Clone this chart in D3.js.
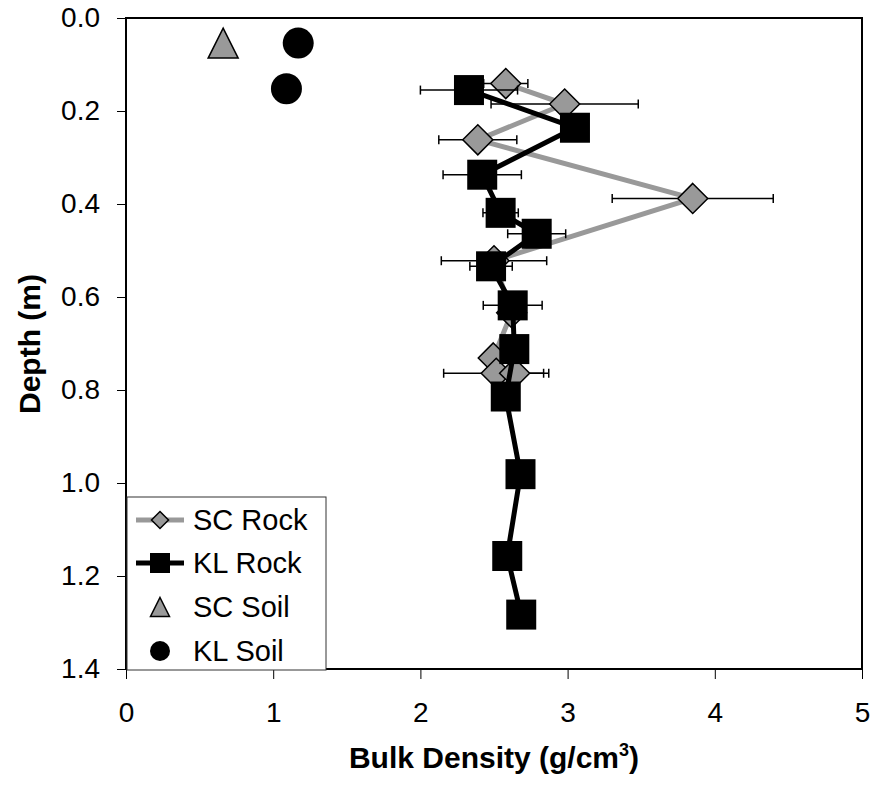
<!DOCTYPE html>
<html>
<head>
<meta charset="utf-8">
<script src="https://cdnjs.cloudflare.com/ajax/libs/d3/7.8.5/d3.min.js"></script>
<style>
  body{margin:0;background:#fff;}
  svg{display:block;font-family:"Liberation Sans",Arial,sans-serif;}
</style>
</head>
<body>
<svg id="canvas" width="871" height="796"></svg>
<script>
// bulk density (g/cm3) vs depth (m), with +/- error
const scRockDensity=[2.58,2.98,2.39,3.85,2.50,2.62,2.495,2.515,2.64];
const scRockDepth=[0.141,0.185,0.262,0.388,0.522,0.634,0.731,0.764,0.764];
const scRockErr=[0.15,0.50,0.265,0.547,0.358,0,0,0.357,0.197];

const klRockDensity=[2.33,3.05,2.42,2.545,2.79,2.48,2.627,2.638,2.58,2.68,2.59,2.685];
const klRockDepth=[0.155,0.236,0.337,0.419,0.464,0.534,0.618,0.712,0.814,0.981,1.157,1.283];
const klRockErr=[0.33,0.08,0.266,0.12,0.197,0.144,0.2,0,0,0,0,0];

const scSoilDensity=[0.66];
const scSoilDepth=[0.054];
const klSoilDensity=[1.17,1.09];
const klSoilDepth=[0.054,0.152];

const xTicks=[0,1,2,3,4,5];
const yTicks=[0,0.2,0.4,0.6,0.8,1.0,1.2,1.4];
const legendNames=["SC Rock","KL Rock","SC Soil","KL Soil"];

const grey="#999999";
let canvas=d3.select("#canvas");

let x=d3.scaleLinear().domain([0,5]).range([126,862]);
let y=d3.scaleLinear().domain([0,1.4]).range([18,669]);

// axes
canvas.append("g").attr("transform","translate(0,669)")
    .call(d3.axisBottom(x).tickValues(xTicks).tickFormat(d3.format("d")).tickSize(10).tickPadding(23))
    .call(g=>{
        g.select(".domain").remove();
        g.selectAll("text").attr("font-size",28).attr("font-family","Liberation Sans, Arial").attr("fill","#000");
        g.selectAll("line").attr("stroke","#000");
    });
canvas.append("g").attr("transform","translate(126,0)")
    .call(d3.axisLeft(y).tickValues(yTicks).tickFormat(d3.format(".1f")).tickSize(9).tickPadding(17))
    .call(g=>{
        g.select(".domain").remove();
        g.selectAll("text").attr("font-size",28).attr("font-family","Liberation Sans, Arial").attr("fill","#000");
        g.selectAll("line").attr("stroke","#000");
    });

canvas.append("rect")
    .attr("x",x(0)).attr("y",y(0))
    .attr("width",x(5)-x(0)).attr("height",y(1.4)-y(0))
    .attr("fill","none").attr("stroke","#000").attr("stroke-width",2);

// titles
canvas.append("text").attr("x",494).attr("y",768)
    .attr("text-anchor","middle").attr("font-size",30).attr("font-weight","bold")
    .html('Bulk Density (g/cm<tspan dy="-12" font-size="18">3</tspan><tspan dy="12">)</tspan>');
canvas.append("text").attr("transform","translate(40,344) rotate(-90)")
    .attr("text-anchor","middle").attr("font-size",30).attr("font-weight","bold")
    .text("Depth (m)");

function series(dens,depth,err,color,marker){
    let pts=dens.map((d,i)=>({x:d,y:depth[i],e:err[i]}));
    let g=canvas.append("g");
    // error bars
    pts.filter(p=>p.e>0).forEach(p=>{
        let x1=x(p.x-p.e),x2=x(p.x+p.e),yy=y(p.y);
        g.append("line").attr("x1",x1).attr("x2",x2).attr("y1",yy).attr("y2",yy)
            .attr("stroke","#000").attr("stroke-width",1.5);
        [x1,x2].forEach(xx=>g.append("line").attr("x1",xx).attr("x2",xx).attr("y1",yy-4.5).attr("y2",yy+4.5)
            .attr("stroke","#000").attr("stroke-width",1.5));
    });
    g.append("path").datum(pts)
        .attr("d",d3.line().x(p=>x(p.x)).y(p=>y(p.y)))
        .attr("fill","none").attr("stroke",color).attr("stroke-width",5);
    pts.forEach(p=>marker(g,x(p.x),y(p.y),30));
}

function diamond(g,cx,cy,s){
    let h=s/2;
    g.append("path").attr("d",`M${cx},${cy-h}L${cx+h},${cy}L${cx},${cy+h}L${cx-h},${cy}Z`)
        .attr("fill",grey).attr("stroke","#000").attr("stroke-width",1.5);
}
function square(g,cx,cy,s){
    g.append("rect").attr("x",cx-s/2).attr("y",cy-s/2).attr("width",s).attr("height",s)
        .attr("fill","#000");
}
function triangle(g,cx,cy,s){
    let h=s/2;
    g.append("path").attr("d",`M${cx},${cy-h}L${cx+h},${cy+h}L${cx-h},${cy+h}Z`)
        .attr("fill",grey).attr("stroke","#000").attr("stroke-width",1.5);
}
function circle(g,cx,cy,s){
    g.append("circle").attr("cx",cx).attr("cy",cy).attr("r",s/2+0.5).attr("fill","#000");
}

series(scRockDensity,scRockDepth,scRockErr,grey,diamond);
series(klRockDensity,klRockDepth,klRockErr,"#000",square);

let soil=canvas.append("g");
scSoilDensity.forEach((d,i)=>triangle(soil,x(d),y(scSoilDepth[i]),30));
klSoilDensity.forEach((d,i)=>circle(soil,x(d),y(klSoilDepth[i]),30));

// legend
let legend=canvas.append("g");
legend.append("rect").attr("x",127).attr("y",497).attr("width",199).attr("height",173)
    .attr("fill","#fff").attr("stroke","#333").attr("stroke-width",1);
const rowY=[520,563,607,651];
legend.append("line").attr("x1",136).attr("x2",184).attr("y1",rowY[0]).attr("y2",rowY[0])
    .attr("stroke",grey).attr("stroke-width",5);
diamond(legend,160,rowY[0],17);
legend.append("line").attr("x1",136).attr("x2",184).attr("y1",rowY[1]).attr("y2",rowY[1])
    .attr("stroke","#000").attr("stroke-width",5);
square(legend,160,rowY[1],20);
triangle(legend,160,rowY[2],19);
circle(legend,160,rowY[3],19);
legendNames.forEach((n,i)=>{
    legend.append("text").attr("x",193).attr("y",rowY[i]).attr("dy","0.36em")
        .attr("font-size",29).text(n);
});
</script>
</body>
</html>
